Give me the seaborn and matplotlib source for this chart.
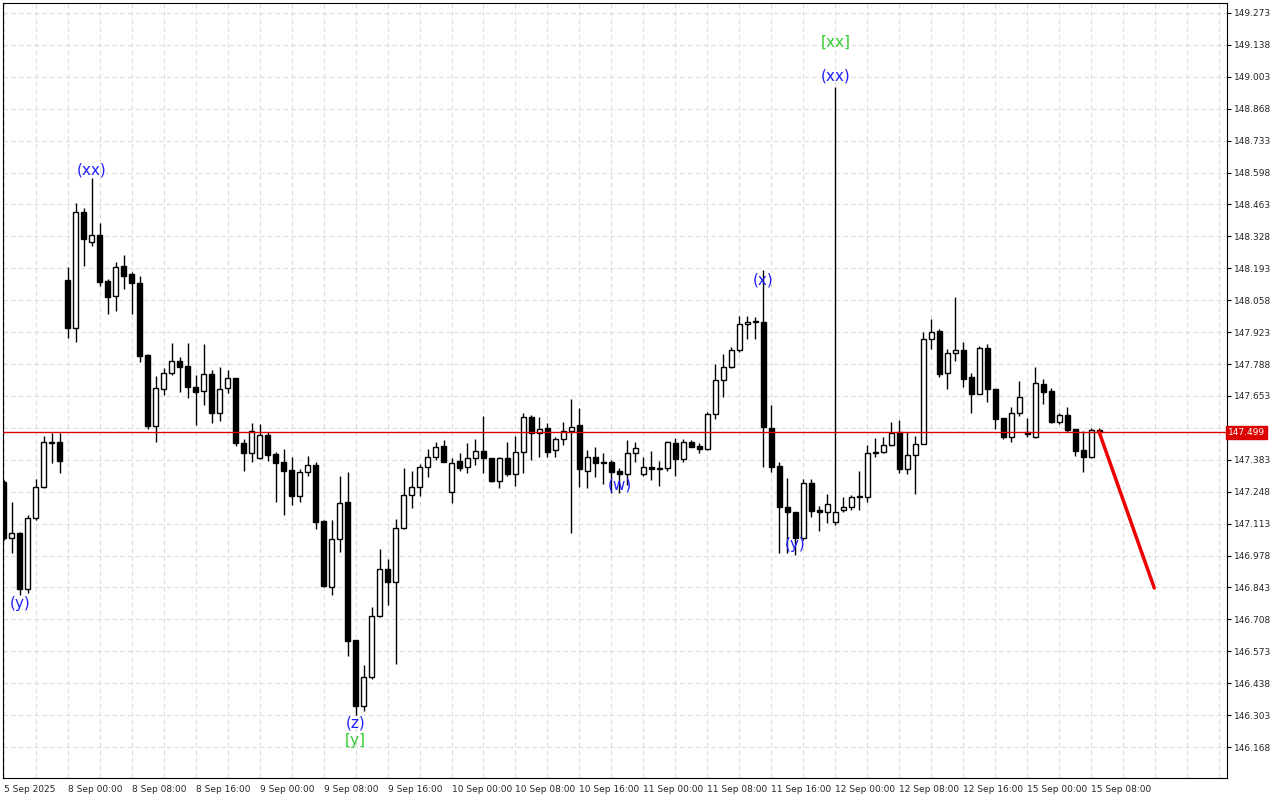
import matplotlib
matplotlib.use("Agg")
import matplotlib.pyplot as plt
import seaborn as sns
import numpy as np
import pandas as pd

opens = [147.289,147.052,147.073,146.837,147.137,147.268,147.458,147.458,
148.144,147.941,148.431,148.304,148.334,148.139,148.076,148.203,148.169,148.131,147.826,147.526,147.683,147.750,147.801,147.780,
147.691,147.674,147.746,147.581,147.687,147.729,147.454,147.412,147.391,147.488,147.408,147.374,147.340,147.230,147.331,147.361,
147.124,146.845,147.048,147.205,146.621,146.342,146.464,146.722,146.921,146.866,147.095,147.234,147.268,147.353,147.395,147.441,
147.247,147.378,147.353,147.391,147.420,147.391,147.293,147.391,147.323,147.416,147.564,147.496,147.517,147.425,147.471,147.505,
147.530,147.336,147.395,147.374,147.374,147.336,147.323,147.412,147.323,147.353,147.348,147.348,147.454,147.386,147.458,147.441,
147.429,147.577,147.721,147.776,147.847,147.957,147.966,147.966,147.518,147.357,147.183,147.162,147.052,147.285,147.171,147.162,
147.120,147.171,147.183,147.226,147.226,147.416,147.416,147.446,147.501,147.344,147.403,147.450,147.894,147.928,147.750,147.835,
147.847,147.733,147.661,147.856,147.683,147.560,147.479,147.581,147.501,147.479,147.704,147.674,147.543,147.572,147.513,147.425,
147.395,147.509]
highs = [147.298,147.205,147.078,147.150,147.302,147.484,147.496,147.496,
148.199,148.469,148.448,148.575,148.385,148.148,148.220,148.249,148.178,148.161,147.831,147.738,147.771,147.877,147.818,147.877,
147.742,147.873,147.763,147.776,147.763,147.729,147.471,147.539,147.534,147.501,147.416,147.429,147.395,147.344,147.399,147.374,
147.128,147.128,147.315,147.331,146.621,146.515,146.760,147.006,146.963,147.133,147.348,147.336,147.365,147.429,147.458,147.467,
147.391,147.412,147.454,147.471,147.568,147.391,147.395,147.458,147.484,147.581,147.573,147.564,147.539,147.479,147.543,147.640,
147.602,147.424,147.437,147.412,147.382,147.348,147.467,147.458,147.395,147.420,147.378,147.463,147.475,147.471,147.467,147.454,
147.585,147.788,147.831,147.860,147.991,147.991,147.987,148.186,147.615,147.374,147.306,147.162,147.302,147.302,147.188,147.238,
148.960,147.226,147.234,147.336,147.446,147.475,147.479,147.543,147.551,147.501,147.484,147.924,147.979,147.936,147.852,148.072,
147.881,147.750,147.864,147.873,147.683,147.560,147.606,147.716,147.560,147.776,147.725,147.687,147.581,147.606,147.513,147.505,
147.517,147.517]
lows = [147.044,146.989,146.811,146.820,147.128,147.264,147.370,147.327,
147.898,147.881,148.203,148.287,148.118,148.000,148.013,148.106,148.000,147.797,147.513,147.458,147.657,147.742,147.670,147.644,
147.530,147.615,147.539,147.547,147.666,147.441,147.336,147.374,147.387,147.378,147.205,147.150,147.192,147.205,147.315,147.090,
146.845,146.811,146.993,146.553,146.304,146.320,146.456,146.718,146.769,146.519,147.090,147.179,147.230,147.310,147.382,147.374,
147.200,147.336,147.327,147.361,147.327,147.289,147.264,147.315,147.272,147.327,147.382,147.395,147.395,147.395,147.446,147.073,
147.268,147.264,147.310,147.281,147.243,147.243,147.277,147.374,147.315,147.298,147.272,147.336,147.315,147.374,147.437,147.412,
147.425,147.556,147.649,147.771,147.839,147.894,147.894,147.353,147.331,146.989,146.989,146.980,147.044,147.141,147.082,147.116,
147.107,147.162,147.171,147.171,147.205,147.395,147.412,147.441,147.327,147.323,147.238,147.450,147.852,147.733,147.683,147.801,
147.691,147.581,147.661,147.628,147.513,147.471,147.458,147.568,147.479,147.475,147.619,147.539,147.535,147.501,147.399,147.331,
147.391,147.501]
closes = [147.052,147.073,146.837,147.137,147.268,147.458,147.454,147.378,
147.941,148.431,148.317,148.334,148.135,148.072,148.199,148.161,148.131,147.822,147.526,147.687,147.750,147.801,147.776,147.691,
147.670,147.746,147.581,147.683,147.729,147.454,147.412,147.505,147.488,147.403,147.370,147.336,147.230,147.331,147.361,147.120,
146.849,147.048,147.200,146.617,146.342,146.464,146.722,146.921,146.866,147.095,147.234,147.268,147.353,147.395,147.437,147.374,
147.370,147.348,147.391,147.420,147.391,147.293,147.391,147.323,147.416,147.564,147.496,147.513,147.416,147.471,147.505,147.522,
147.344,147.395,147.370,147.370,147.331,147.323,147.412,147.433,147.353,147.344,147.344,147.458,147.386,147.458,147.437,147.429,
147.577,147.721,147.776,147.847,147.957,147.966,147.966,147.522,147.353,147.183,147.162,147.052,147.285,147.166,147.162,147.196,
147.162,147.183,147.226,147.226,147.412,147.412,147.446,147.496,147.344,147.403,147.450,147.894,147.924,147.746,147.835,147.847,
147.725,147.661,147.856,147.683,147.556,147.479,147.581,147.649,147.492,147.708,147.670,147.543,147.572,147.509,147.420,147.395,
147.509,147.501]

current_price = 147.499
forecast_x = [137, 143.9]
forecast_y = [147.501, 146.841]

xtick_pos = [0, 8, 16, 24, 32, 40, 48, 56, 64, 72, 80, 88, 96, 104, 112, 120, 128, 136]
xtick_labels = ["5 Sep 2025", "8 Sep 00:00", "8 Sep 08:00", "8 Sep 16:00", "9 Sep 00:00",
                "9 Sep 08:00", "9 Sep 16:00", "10 Sep 00:00", "10 Sep 08:00", "10 Sep 16:00",
                "11 Sep 00:00", "11 Sep 08:00", "11 Sep 16:00", "12 Sep 00:00", "12 Sep 08:00",
                "12 Sep 16:00", "15 Sep 00:00", "15 Sep 08:00"]
ytick_vals = [149.273, 149.138, 149.003, 148.868, 148.733, 148.598, 148.463, 148.328, 148.193,
              148.058, 147.923, 147.788, 147.653, 147.518, 147.383, 147.248, 147.113, 146.978,
              146.843, 146.708, 146.573, 146.438, 146.303, 146.168]

wave_labels = ["(y)", "(xx)", "(z)", "[y]", "(w)", "(x)", "(y)", "(xx)", "[xx]"]
wave_x = [2, 11, 44, 44, 77, 95, 99, 104, 104]
wave_y = [146.777, 148.609, 146.270, 146.194, 147.276, 148.144, 147.023, 149.007, 149.150]
wave_colors = ["#1f1fff", "#1f1fff", "#1f1fff", "#33cc33", "#1f1fff", "#1f1fff", "#1f1fff", "#1f1fff", "#33cc33"]

sns.set_theme(style="white")
plt.rcParams['font.family'] = ['DejaVu Sans']

df = pd.DataFrame({"o": opens, "h": highs, "l": lows, "c": closes})
df["i"] = np.arange(len(df))
df["bottom"] = df[["o", "c"]].min(axis=1)
df["height"] = (df["o"] - df["c"]).abs().clip(lower=0.002)
df["up"] = df["c"] >= df["o"]

fig = plt.figure(figsize=(12.8, 8), dpi=100)
ax = fig.add_axes([3/1280, 22/800, 1224/1280, 775/800])

for gx in np.arange(0, 154, 4):
    ax.axvline(gx, color="#dddddd", lw=0.8, ls=(0, (4, 3)), zorder=0)
for gy in ytick_vals:
    ax.axhline(gy, color="#dddddd", lw=0.8, ls=(0, (4, 3)), zorder=0)

ax.vlines(df["i"], df["l"], df["h"], color="black", lw=1, zorder=2)
ax.bar(df["i"], df["height"], bottom=df["bottom"], width=0.62,
       color=np.where(df["up"], "white", "black"), edgecolor="black", linewidth=1, zorder=3)

ax.axhline(current_price, color="#dd0000", lw=1, zorder=4)
sns.lineplot(x=forecast_x, y=forecast_y, ax=ax, color="#ee0000", lw=2.5, zorder=5)

for t, x, y, c in zip(wave_labels, wave_x, wave_y, wave_colors):
    ax.text(x, y, t, color=c, fontsize=11, ha="center", va="center", zorder=6)

ax.set_xlim(-0.1, 153)
ax.set_ylim(146.037, 149.315)
ax.yaxis.tick_right()
ax.set_yticks(ytick_vals)
# the 147.518 label is covered by the current-price box in the reference
ax.set_yticklabels(["" if abs(v - 147.518) < 1e-6 else f"{v:.3f}" for v in ytick_vals], fontsize=6.5)
ax.set_xticks(xtick_pos)
ax.set_xticklabels(xtick_labels, fontsize=6.5, ha="left")
ax.tick_params(axis="both", length=3, width=0.8, color="black", pad=2)
for s in ax.spines.values():
    s.set_color("black")
    s.set_linewidth(0.8)

ax.text(1.001, current_price, "147.499", transform=ax.get_yaxis_transform(),
        fontsize=6.5, color="white", va="center", ha="left",
        bbox=dict(boxstyle="square,pad=0.2", fc="#dd0000", ec="#dd0000"))

fig.savefig("out.png", dpi=100, facecolor="white")
